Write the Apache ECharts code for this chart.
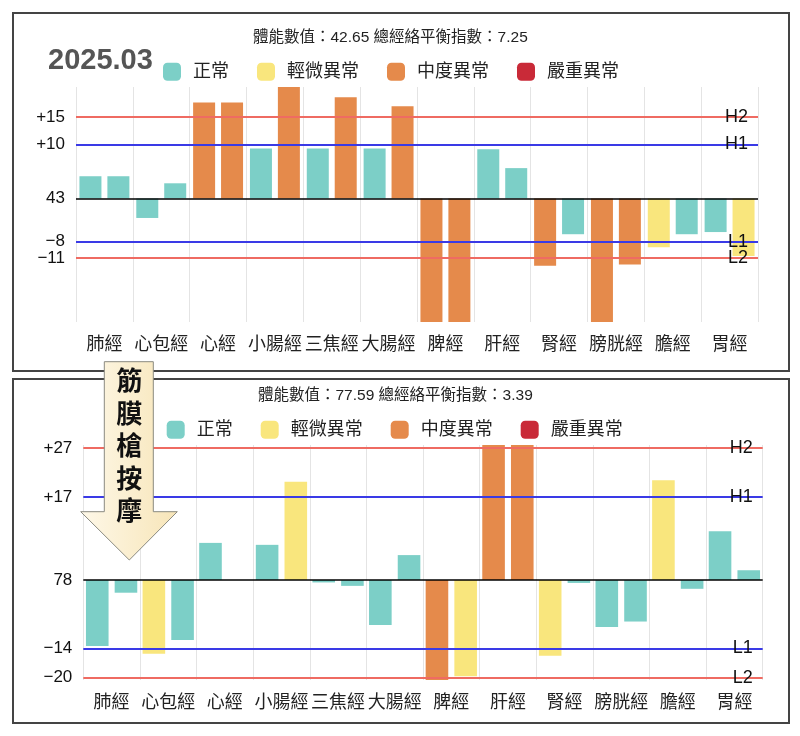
<!DOCTYPE html>
<html>
<head>
<meta charset="utf-8">
<script src="https://cdn.jsdelivr.net/npm/echarts@6/dist/echarts.min.js"></script>
<style>
html,body{margin:0;padding:0;background:#fff;}
#main{width:800px;height:736px;}
</style>
</head>
<body>
<div id="main"></div>
<script>
var categories = ['肺經','心包經','心經','小腸經','三焦經','大腸經','脾經','肝經','腎經','膀胱經','膽經','胃經'];
var statusNames = ['正常','輕微異常','中度異常','嚴重異常'];
var statusColors = ['#7ccfc7','#f9e67d','#e58a4b','#c92a38'];

// 上圖 2025.03 （0 = 正常, 1 = 輕微, 2 = 中度, 3 = 嚴重）
var title1 = '體能數值：42.65 總經絡平衡指數：7.25';
var leftValues1  = [4.1, -3.6, 17.7, 9.2, 9.2, 9.2, -23, 9.1, -12.4, -23, -9.0, -6.2];
var leftStatus1  = [0, 0, 2, 0, 0, 0, 2, 0, 2, 2, 1, 0];
var rightValues1 = [4.1, 2.8, 17.7, 21, 18.7, 17.0, -23, 5.6, -6.6, -12.2, -6.6, -10.6];
var rightStatus1 = [0, 0, 2, 2, 2, 2, 2, 0, 0, 2, 0, 1];
var tickValues1 = [15, 10, 0, -8, -11];
var tickLabels1 = ['+15', '+10', '43', '−8', '−11'];
var limitValues1 = [15, 10, -8, -11];

// 下圖
var title2 = '體能數值：77.59 總經絡平衡指數：3.39';
var leftValues2  = [-13.5, -15.1, 7.6, 7.2, -0.5, -9.2, -21, 28, -15.5, -9.6, 20.4, 10.0];
var leftStatus2  = [0, 1, 0, 0, 0, 0, 2, 2, 1, 0, 1, 0];
var rightValues2 = [-2.6, -12.3, 0, 20.1, -1.2, 5.1, -19.7, 28, -0.6, -8.5, -1.8, 2.0];
var rightStatus2 = [0, 0, 0, 1, 0, 0, 1, 2, 0, 0, 0, 0];
var tickValues2 = [27, 17, 0, -14, -20];
var tickLabels2 = ['+27', '+17', '78', '−14', '−20'];
var limitValues2 = [27, 17, -14, -20];

var limitNames = ['H2', 'H1', 'L1', 'L2'];
var limitColors = ['#ef6b62', '#3a3ae6', '#3a3ae6', '#ef6b62'];

var font = "'Liberation Sans', 'Noto Sans CJK TC', sans-serif";
var chart = echarts.init(document.getElementById('main'));

function buildSeries(c, lv, ls, rv, rs, limits, bw) {
	var out = [];
	[[lv, ls, 'L'], [rv, rs, 'R']].forEach(function (side) {
		statusNames.forEach(function (name, s) {
			out.push({
				type: 'bar',
				name: name,
				xAxisIndex: c,
				yAxisIndex: c * 4,
				stack: 'c' + c + side[2],
				barWidth: bw,
				barGap: '27%',
				itemStyle: {color: statusColors[s]},
				data: side[0].map(function (v, i) { return side[1][i] === s ? v : '-'; })
			});
		});
	});
	var lines = limits.map(function (v, i) {
		return {yAxis: v, lineStyle: {color: limitColors[i], width: 2, type: 'solid', opacity: 1}};
	});
	lines.push({yAxis: 0, lineStyle: {color: '#000', width: 1.5, type: 'solid'}});
	out[0].markLine = {silent: true, symbol: 'none', label: {show: false}, data: lines};
	return out;
}

function xAxisOf(c) {
	return {
		type: 'category', gridIndex: c, data: categories,
		axisLine: {show: false}, axisTick: {show: false},
		axisLabel: {interval: 0, fontSize: 18, color: '#222', margin: 14, fontFamily: font},
		splitLine: {show: true, lineStyle: {color: '#e4e4e4', width: 1}}
	};
}

// 相鄰標籤太近會被隱藏，所以奇偶分兩條軸畫
function labelAxis(c, min, max, vals, labels, parity, right) {
	var use = vals.filter(function (v, i) { return i % 2 === parity; });
	return {
		type: 'value', gridIndex: c, min: min, max: max, position: right ? 'right' : 'left', z: 10,
		axisLine: {show: false}, axisTick: {show: false}, splitLine: {show: false},
		axisLabel: {
			inside: !!right, customValues: use, hideOverlap: false,
			fontSize: right ? 18 : 17, color: '#111', margin: right ? 10 : 11, fontFamily: font,
			formatter: function (v) { var k = vals.indexOf(v); return k < 0 ? '' : labels[k]; }
		}
	};
}

function axesOf(c, min, max, ticks, tickLabels, limits) {
	return [
		labelAxis(c, min, max, ticks, tickLabels, 0, false),
		labelAxis(c, min, max, ticks, tickLabels, 1, false),
		labelAxis(c, min, max, limits, limitNames, 0, true),
		labelAxis(c, min, max, limits, limitNames, 1, true)
	];
}

function legendOf(left, top) {
	return {
		left: left, top: top, padding: 0, itemWidth: 18, itemHeight: 18, itemGap: 28,
		icon: 'roundRect', selectedMode: false, data: statusNames,
		textStyle: {fontSize: 18, color: '#222', fontFamily: font, padding: [0, 0, 0, 7]}
	};
}

var option = {
	animation: false,
	textStyle: {fontFamily: font},
	title: [
		{text: title1, left: 253, top: 30, padding: 0, textStyle: {fontSize: 15.5, fontWeight: 'normal', color: '#222', fontFamily: font}},
		{text: '2025.03', left: 48, top: 46, padding: 0, textStyle: {fontSize: 29, fontWeight: 'bold', color: '#555', fontFamily: font}},
		{text: title2, left: 258, top: 388, padding: 0, textStyle: {fontSize: 15.5, fontWeight: 'normal', color: '#222', fontFamily: font}}
	],
	legend: [legendOf(163, 62.7), legendOf(166.7, 420.7)],
	grid: [
		{left: 76, right: 42, top: 87, height: 235},
		{left: 83.3, right: 37.3, top: 445, height: 235}
	],
	xAxis: [xAxisOf(0), xAxisOf(1)],
	yAxis: axesOf(0, -22.8, 20.57, tickValues1, tickLabels1, limitValues1)
		.concat(axesOf(1, -20.47, 27.64, tickValues2, tickLabels2, limitValues2)),
	series: buildSeries(0, leftValues1, leftStatus1, rightValues1, rightStatus1, limitValues1, 22)
		.concat(buildSeries(1, leftValues2, leftStatus2, rightValues2, rightStatus2, limitValues2, 22.6)),
	graphic: [
		{type: 'rect', z: -10, shape: {x: 13, y: 13, width: 776, height: 358}, style: {fill: 'none', stroke: '#444', lineWidth: 2}},
		{type: 'rect', z: -10, shape: {x: 13, y: 379, width: 776, height: 344}, style: {fill: 'none', stroke: '#444', lineWidth: 2}},
		{
			type: 'polygon', z: 100,
			shape: {points: [[104.3, 361.7], [153.3, 361.7], [153.3, 511.7], [177.3, 511.7], [129.3, 560], [80.7, 511.7], [104.3, 511.7]]},
			style: {
				fill: new echarts.graphic.LinearGradient(0, 0, 1, 0, [
					{offset: 0, color: '#fef8e8'}, {offset: 1, color: '#f7e5b8'}
				]),
				stroke: '#8a8a80', lineWidth: 1
			}
		},
		{
			type: 'text', z: 101, x: 129.3, y: 366.7,
			style: {text: '筋\n膜\n槍\n按\n摩', align: 'center', verticalAlign: 'top', fontSize: 26, fontWeight: 'bold', lineHeight: 32.5, fill: '#111', fontFamily: font}
		}
	]
};
chart.setOption(option);
</script>
</body>
</html>
